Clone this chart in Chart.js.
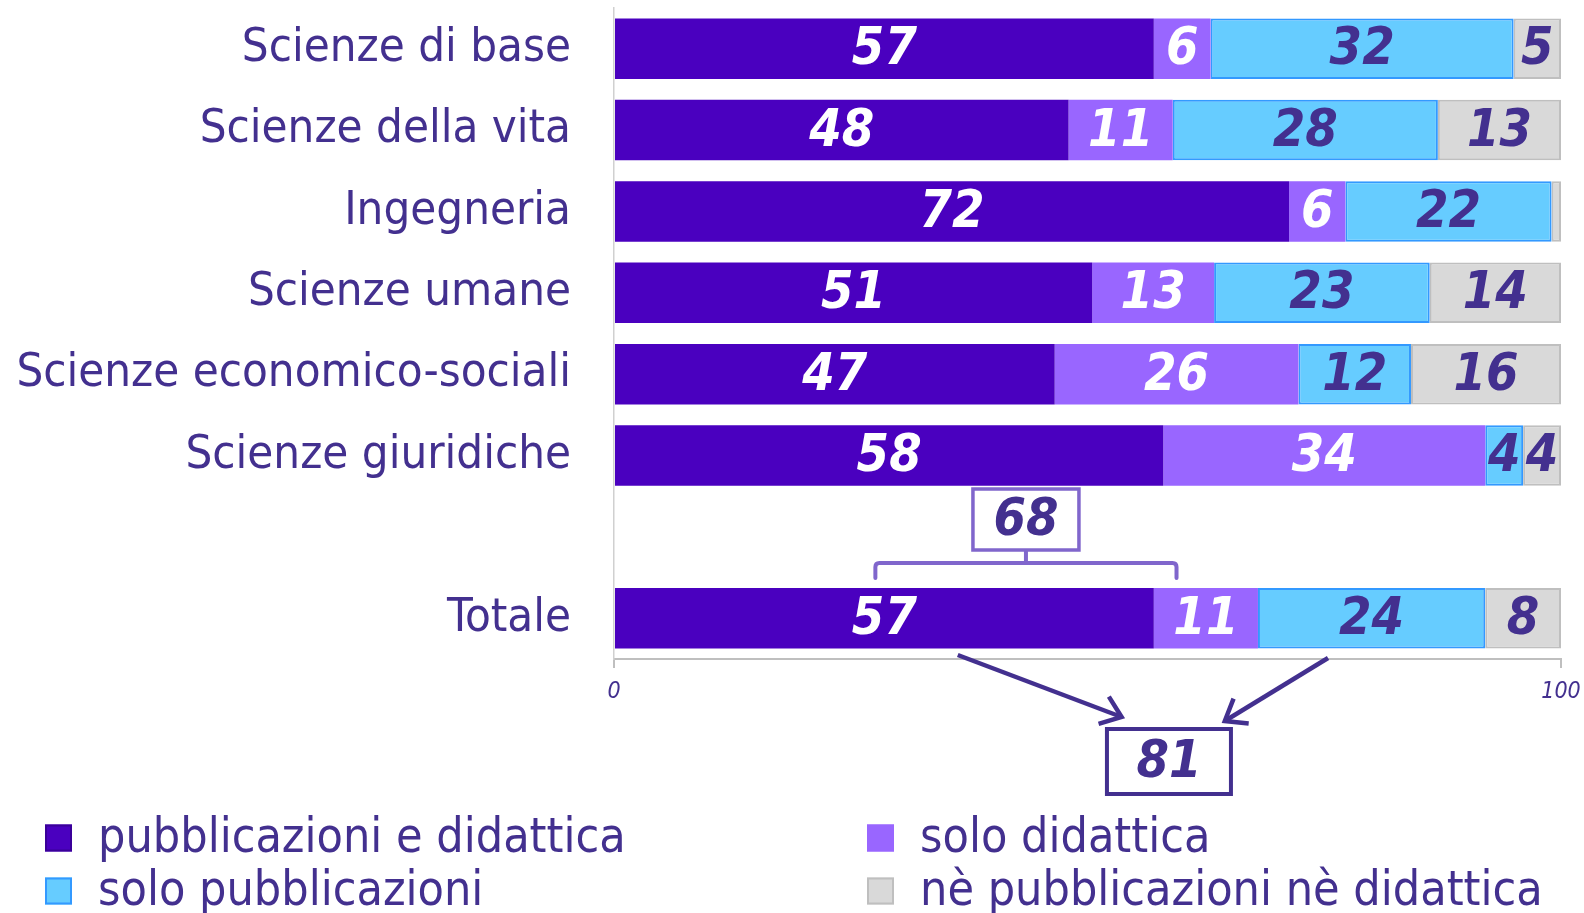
<!DOCTYPE html>
<html>
<head>
<meta charset="utf-8">
<script src="https://cdn.jsdelivr.net/npm/chart.js@4/dist/chart.umd.min.js"></script>
<style>
  html, body { margin: 0; padding: 0; background: #ffffff; }
  #wrap { width: 1584px; height: 913px; }
</style>
</head>
<body>
<div id="wrap"><canvas id="c" width="1584" height="913"></canvas></div>
<script>
// ---- data ----
const categories = ['Scienze di base', 'Scienze della vita', 'Ingegneria', 'Scienze umane',
  'Scienze economico-sociali', 'Scienze giuridiche', '', 'Totale'];
const seriesNames = ['pubblicazioni e didattica', 'solo didattica', 'solo pubblicazioni', 'nè pubblicazioni nè didattica'];
const pubblicazioniEDidattica = [57, 48, 72, 51, 47, 58, null, 57];
const soloDidattica = [6, 11, 6, 13, 26, 34, null, 11];
const soloPubblicazioni = [32, 28, 22, 23, 12, 4, null, 24];
const nePubblNeDid = [5, 13, 1, 14, 16, 4, null, 8];
const xTickValues = [0, 100];
// annotation values (axis units)
const bracketRange = [27.6, 59.4];
const bracketLabel = '68';
const arrowStarts = [36.3, 75.4];
const arrowEnds = [53.6, 64.5];
const sumLabel = '81';
const sumLabelAt = 58.6;

// ---- styles ----
const FONT = '"DejaVu Sans Condensed", "DejaVu Sans", sans-serif';
const TEXT = '#43308F';
const fills = ['#4A00BF', '#9966FF', '#66CCFF', '#D9D9D9'];
const borders = ['#4A00BF', '#9966FF', '#3399FF', '#BFBFBF'];
const borderW = [0, 0, 2, 2];
const labelColors = ['#FFFFFF', '#FFFFFF', TEXT, TEXT];
const LABEL_MIN = 2;

const raw = [pubblicazioniEDidattica, soloDidattica, soloPubblicazioni, nePubblNeDid];
const rowSums = categories.map((_, i) => raw.reduce((s, a) => s + (a[i] || 0), 0));
const shares = raw.map(a => a.map((v, i) => v == null ? null : v / rowSums[i] * 100));

const datasets = raw.map((a, k) => ({
  label: seriesNames[k],
  data: shares[k],
  rawValues: a,
  backgroundColor: fills[k],
  borderColor: borders[k],
  borderWidth: borderW[k],
  borderSkipped: false,
  categoryPercentage: 1.0,
  barPercentage: 0.745
}));

const valueLabels = {
  id: 'valueLabels',
  afterDatasetsDraw(chart) {
    const ctx = chart.ctx;
    ctx.save();
    ctx.font = 'italic bold 52px ' + FONT;
    ctx.textAlign = 'center';
    ctx.textBaseline = 'middle';
    chart.data.datasets.forEach((ds, k) => {
      const meta = chart.getDatasetMeta(k);
      meta.data.forEach((el, i) => {
        const v = ds.rawValues[i];
        if (v == null || v < LABEL_MIN) return;
        ctx.fillStyle = labelColors[k];
        ctx.fillText(String(v), (el.x + el.base) / 2, el.y + 2);
      });
    });
    ctx.restore();
  }
};

function arrowHead(ctx, x1, y1, x2, y2, len) {
  const a = Math.atan2(y2 - y1, x2 - x1);
  ctx.beginPath();
  ctx.moveTo(x2 - len * Math.cos(a - 0.65), y2 - len * Math.sin(a - 0.65));
  ctx.lineTo(x2, y2);
  ctx.lineTo(x2 - len * Math.cos(a + 0.65), y2 - len * Math.sin(a + 0.65));
  ctx.stroke();
}

const annotations = {
  id: 'annotations',
  afterDraw(chart) {
    const ctx = chart.ctx;
    const xs = chart.scales.x;
    const totIdx = categories.indexOf('Totale');
    const meta = chart.getDatasetMeta(0);
    const bar = meta.data[totIdx];
    const barTop = bar.y - bar.height / 2;
    ctx.save();
    // bracket
    const bx1 = xs.getPixelForValue(bracketRange[0]);
    const bx2 = xs.getPixelForValue(bracketRange[1]);
    const bmid = (bx1 + bx2) / 2;
    const by = barTop - 25, bTick = barTop - 10;
    ctx.strokeStyle = '#8066CC';
    ctx.lineWidth = 4;
    ctx.lineJoin = 'round';
    ctx.lineCap = 'round';
    ctx.beginPath();
    ctx.moveTo(bx1, bTick);
    ctx.lineTo(bx1, by + 4);
    ctx.quadraticCurveTo(bx1, by, bx1 + 4, by);
    ctx.lineTo(bx2 - 4, by);
    ctx.quadraticCurveTo(bx2, by, bx2, by + 4);
    ctx.lineTo(bx2, bTick);
    ctx.moveTo(bmid, by);
    ctx.lineTo(bmid, by - 13);
    ctx.stroke();
    // box 68
    const bw = 106, bh = 61;
    const boxBottom = by - 13;
    ctx.fillStyle = '#FFFFFF';
    ctx.fillRect(bmid - bw / 2, boxBottom - bh, bw, bh);
    ctx.lineWidth = 3.5;
    ctx.lineJoin = 'miter';
    ctx.strokeRect(bmid - bw / 2, boxBottom - bh, bw, bh);
    ctx.fillStyle = TEXT;
    ctx.font = 'italic bold 52px ' + FONT;
    ctx.textAlign = 'center';
    ctx.textBaseline = 'middle';
    ctx.fillText(bracketLabel, bmid, boxBottom - bh / 2 + 2);

    // arrows
    const axisY = chart.chartArea.bottom;
    ctx.strokeStyle = TEXT;
    ctx.lineWidth = 4.5;
    ctx.lineCap = 'butt';
    const starts = [[xs.getPixelForValue(arrowStarts[0]), axisY - 4], [xs.getPixelForValue(arrowStarts[1]), axisY - 1]];
    const ends = [[xs.getPixelForValue(arrowEnds[0]), axisY + 58], [xs.getPixelForValue(arrowEnds[1]), axisY + 62]];
    for (let i = 0; i < 2; i++) {
      ctx.beginPath();
      ctx.moveTo(starts[i][0], starts[i][1]);
      ctx.lineTo(ends[i][0], ends[i][1]);
      ctx.stroke();
      arrowHead(ctx, starts[i][0], starts[i][1], ends[i][0], ends[i][1], 24);
    }
    // box 81
    const sx = xs.getPixelForValue(sumLabelAt);
    const sw = 124, sh = 65, sTop = axisY + 70;
    ctx.lineWidth = 4;
    ctx.strokeRect(sx - sw / 2, sTop, sw, sh);
    ctx.fillStyle = TEXT;
    ctx.fillText(sumLabel, sx, sTop + sh / 2 + 2);

    // legend
    const cols = [45, 867];
    const rows = [838, 891];
    const sq = 27;
    ctx.font = '48px ' + FONT;
    ctx.textAlign = 'left';
    ctx.textBaseline = 'middle';
    [0, 1, 2, 3].forEach((k, n) => {
      const cx = cols[n % 2], cy = rows[Math.floor(n / 2)];
      ctx.fillStyle = fills[k];
      ctx.fillRect(cx, cy - sq / 2, sq, sq);
      ctx.strokeStyle = k === 0 ? '#3A0099' : borders[k];
      ctx.lineWidth = 2;
      ctx.strokeRect(cx + 1, cy - sq / 2 + 1, sq - 2, sq - 2);
      ctx.fillStyle = TEXT;
      ctx.fillText(seriesNames[k], cx + 53, cy + 2);
    });
    ctx.restore();
  }
};

new Chart(document.getElementById('c'), {
  type: 'bar',
  data: { labels: categories, datasets },
  options: {
    indexAxis: 'y',
    responsive: false,
    animation: false,
    devicePixelRatio: 1,
    layout: { padding: { top: 8, right: 23, bottom: 0, left: 0 } },
    plugins: { legend: { display: false }, tooltip: { enabled: false } },
    scales: {
      x: {
        stacked: true,
        min: 0, max: 100,
        afterBuildTicks(scale) { scale.ticks = xTickValues.map(v => ({ value: v })); },
        afterFit(scale) { scale.height = 913 - 659; scale.paddingLeft = 0; scale.paddingRight = 0; },
        grid: { drawOnChartArea: false, drawTicks: true, tickLength: 9, color: '#BFBFBF', lineWidth: 2 },
        border: { display: true, color: '#BFBFBF', width: 2 },
        ticks: { color: TEXT, font: { family: FONT, size: 23, style: 'italic' }, padding: 10, maxRotation: 0 }
      },
      y: {
        stacked: true,
        afterFit(scale) { scale.width = 614; scale.paddingTop = 0; scale.paddingBottom = 0; },
        grid: { display: false, drawTicks: false },
        border: { display: true, color: '#D0D0D0', width: 1.5 },
        ticks: { color: TEXT, font: { family: FONT, size: 47 }, padding: 43 }
      }
    }
  },
  plugins: [valueLabels, annotations]
});
</script>
</body>
</html>
